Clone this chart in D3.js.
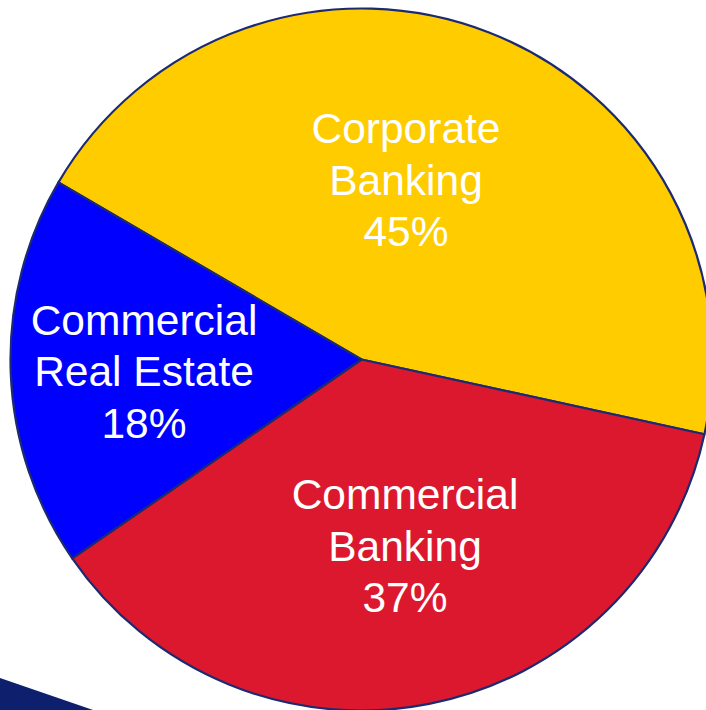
<!DOCTYPE html>
<html>
<head>
<meta charset="utf-8">
<script src="https://cdn.jsdelivr.net/npm/d3@7"></script>
<style>
  html, body { margin: 0; padding: 0; background: #fff; }
  svg { display: block; }
</style>
</head>
<body>
<svg id="chart" width="706" height="710"></svg>
<script>
// slice data, clockwise from the upper-left boundary
const categories = ['Corporate Banking', 'Commercial Banking', 'Commercial Real Estate'];
const shares = [45, 37, 18];
const labelLines = [
  ['Corporate', 'Banking', '45%'],
  ['Commercial', 'Banking', '37%'],
  ['Commercial', 'Real Estate', '18%'],
];
const colors = ['#FFCC00', '#DC182F', '#0000FF'];

const width = 706;
const height = 710;
const cx = 361.5;
const cy = 359.5;
const radius = 351;

// where each label block sits (x centre, first baseline), relative to the pie centre
const labelPos = {
  'Corporate Banking': [44.5, -216.5],
  'Commercial Banking': [43.5, 149.5],
  'Commercial Real Estate': [-217.5, -25],
};
const lineGap = 51.5;

const svg = d3.select('#chart');

// slide decoration in the bottom-left corner
svg.append('path')
  .attr('d', 'M0,678 L93,710 L0,710 Z')
  .attr('fill', '#0E1F6E');

const pie = d3.pie()
  .sort(null)
  .value(d => d)
  .startAngle(-59.7 * Math.PI / 180)
  .endAngle(-59.7 * Math.PI / 180 + 2 * Math.PI);

const arc = d3.arc().innerRadius(0).outerRadius(radius);

const g = svg.append('g').attr('transform', `translate(${cx},${cy})`);

const arcs = pie(shares);

g.selectAll('path.slice')
  .data(arcs)
  .enter()
  .append('path')
  .attr('class', 'slice')
  .attr('d', arc)
  .attr('fill', (d, i) => colors[i])
  .attr('stroke', '#1C2A72')
  .attr('stroke-width', 2.2)
  .attr('stroke-linejoin', 'round');

const labels = g.selectAll('text.label')
  .data(arcs)
  .enter()
  .append('text')
  .attr('class', 'label')
  .attr('text-anchor', 'middle')
  .attr('fill', '#fff')
  .attr('font-family', 'Liberation Sans, Arial, sans-serif')
  .attr('font-size', 42.5)
  .attr('transform', (d, i) => {
    const p = labelPos[categories[i]];
    return `translate(${p[0]},${p[1]})`;
  });

labels.selectAll('tspan')
  .data((d, i) => labelLines[i])
  .enter()
  .append('tspan')
  .attr('x', 0)
  .attr('y', (t, j) => j * lineGap)
  .text(t => t);
</script>
</body>
</html>
